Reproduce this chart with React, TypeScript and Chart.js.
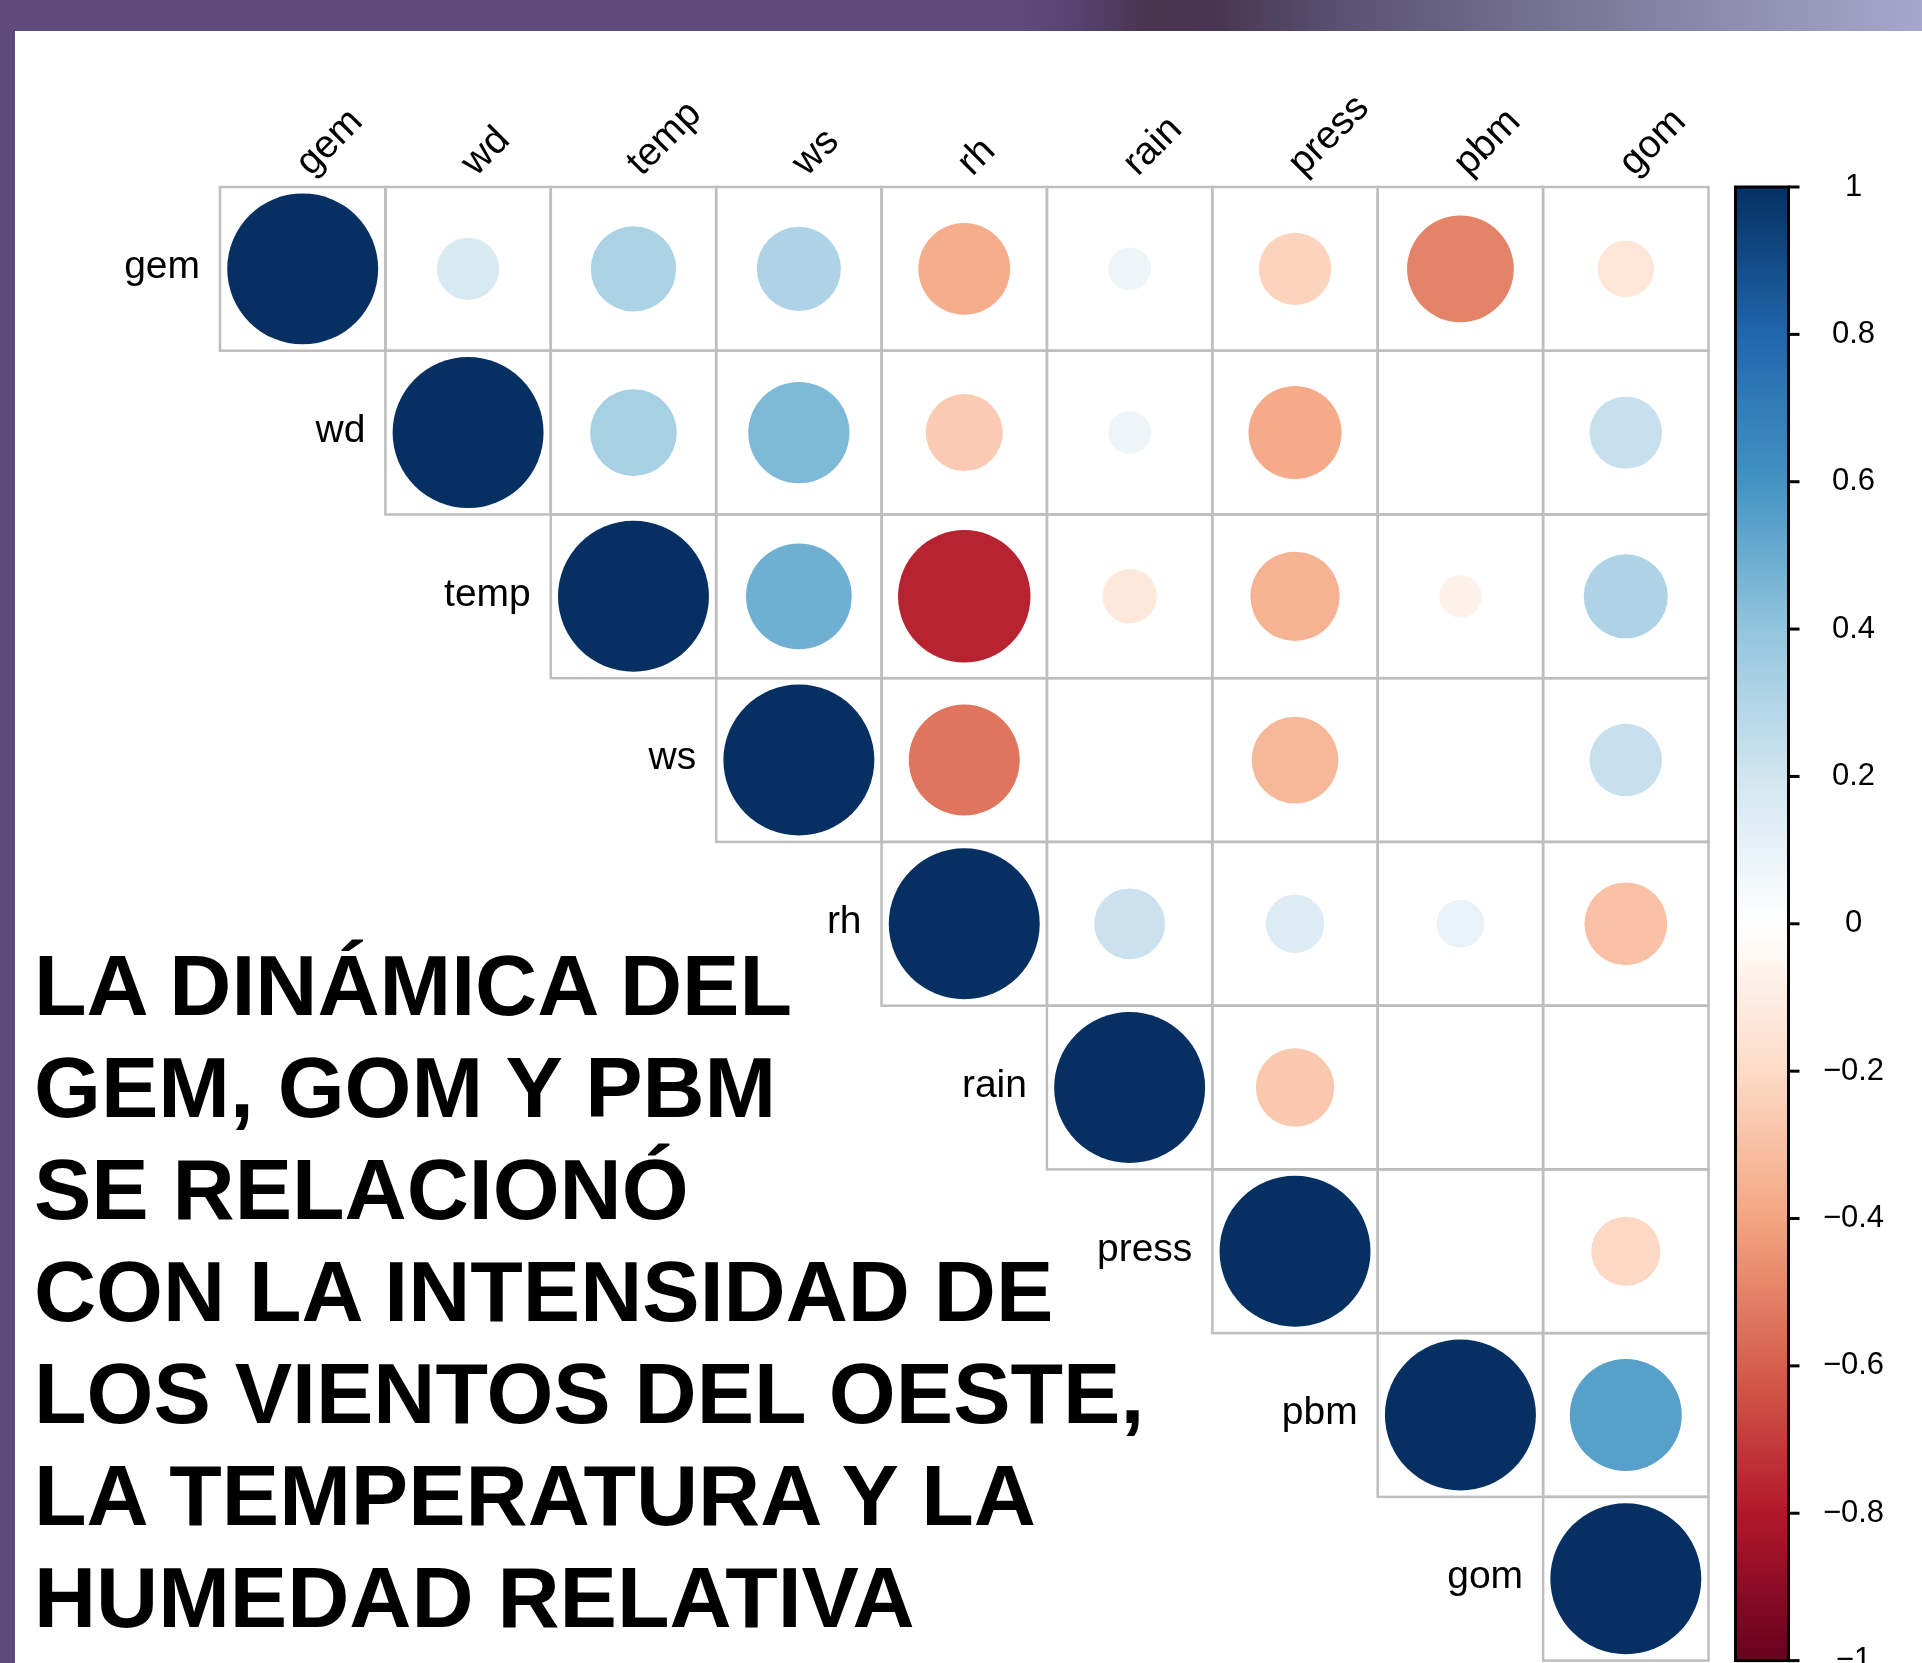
import React, { useEffect, useRef } from "react";
import { Chart, registerables } from "chart.js";

Chart.register(...registerables);

// ---------- data ----------
const VARIABLES = ["gem", "wd", "temp", "ws", "rh", "rain", "press", "pbm", "gom"];

// upper triangle, each row starts at the diagonal; null = blank cell
const ROW_GEM = [1, 0.17, 0.32, 0.31, -0.37, 0.08, -0.23, -0.5, -0.14];
const ROW_WD = [1, 0.33, 0.45, -0.26, 0.08, -0.38, null, 0.23];
const ROW_TEMP = [1, 0.49, -0.77, -0.13, -0.35, -0.08, 0.31];
const ROW_WS = [1, -0.54, null, -0.33, null, 0.23];
const ROW_RH = [1, 0.22, 0.15, 0.1, -0.3];
const ROW_RAIN = [1, -0.27, null, null];
const ROW_PRESS = [1, null, -0.21];
const ROW_PBM = [1, 0.55];
const ROW_GOM = [1];
const UPPER_ROWS: (number | null)[][] = [
  ROW_GEM, ROW_WD, ROW_TEMP, ROW_WS, ROW_RH, ROW_RAIN, ROW_PRESS, ROW_PBM, ROW_GOM,
];

const COLORBAR_TICKS = [1, 0.8, 0.6, 0.4, 0.2, 0, -0.2, -0.4, -0.6, -0.8, -1];

const PALETTE = [
  "#67001F", "#B2182B", "#D6604D", "#F4A582", "#FDDBC7", "#FFFFFF",
  "#D1E5F0", "#92C5DE", "#4393C3", "#2166AC", "#053061",
];

const TITLE_LINES = [
  "LA DINÁMICA DEL",
  "GEM, GOM Y PBM",
  "SE RELACIONÓ",
  "CON LA INTENSIDAD DE",
  "LOS VIENTOS DEL OESTE,",
  "LA TEMPERATURA Y LA",
  "HUMEDAD RELATIVA",
];

// ---------- helpers ----------
function hexToRgb(h: string) {
  const n = parseInt(h.slice(1), 16);
  return [(n >> 16) & 255, (n >> 8) & 255, n & 255];
}
function colorFor(v: number) {
  const t = ((v + 1) / 2) * (PALETTE.length - 1);
  const i = Math.max(0, Math.min(PALETTE.length - 2, Math.floor(t)));
  const f = t - i;
  const a = hexToRgb(PALETTE[i]);
  const b = hexToRgb(PALETTE[i + 1]);
  const c = a.map((av, k) => Math.round(av + (b[k] - av) * f));
  return `rgb(${c[0]},${c[1]},${c[2]})`;
}
function fmtTick(v: number) {
  const s = String(Math.abs(v));
  return v < 0 ? "\u2212" + s : s;
}

const FONT = '"Liberation Sans", Arial, Helvetica, sans-serif';

const corrPlugin = {
  id: "corrDecor",
  beforeDatasetsDraw(chart: any) {
    const { ctx } = chart;
    const x = chart.scales.x;
    const y = chart.scales.y;
    const n = VARIABLES.length;
    ctx.save();
    ctx.strokeStyle = "#bebebe";
    ctx.lineWidth = 2.5;
    for (let i = 0; i < n; i++) {
      for (let j = i; j < n; j++) {
        const x0 = x.getPixelForValue(j);
        const x1 = x.getPixelForValue(j + 1);
        const y0 = y.getPixelForValue(i);
        const y1 = y.getPixelForValue(i + 1);
        ctx.strokeRect(x0, y0, x1 - x0, y1 - y0);
      }
    }
    // row labels
    const fs = 39;
    ctx.fillStyle = "#000";
    ctx.font = `${fs}px ${FONT}`;
    ctx.textAlign = "right";
    ctx.textBaseline = "alphabetic";
    for (let i = 0; i < n; i++) {
      const cy = (y.getPixelForValue(i) + y.getPixelForValue(i + 1)) / 2;
      ctx.fillText(VARIABLES[i], x.getPixelForValue(i) - 20, cy + 0.24 * fs);
    }
    // column labels (rotated)
    const top = y.getPixelForValue(0);
    ctx.textAlign = "left";
    for (let j = 0; j < n; j++) {
      const cx = (x.getPixelForValue(j) + x.getPixelForValue(j + 1)) / 2;
      ctx.save();
      ctx.translate(cx + 8, top - 10);
      ctx.rotate(-Math.PI / 4);
      ctx.fillText(VARIABLES[j], 0, 0);
      ctx.restore();
    }
    ctx.restore();
  },
  afterDatasetsDraw(chart: any) {
    const { ctx, chartArea } = chart;
    const cb = chart.scales.cb;
    const left = chartArea.right + 27;
    const right = chartArea.right + 80;
    const top = cb.getPixelForValue(1);
    const bottom = cb.getPixelForValue(-1);
    ctx.save();
    const g = ctx.createLinearGradient(0, bottom, 0, top);
    PALETTE.forEach((c, k) => g.addColorStop(k / (PALETTE.length - 1), c));
    ctx.fillStyle = g;
    ctx.fillRect(left, top, right - left, bottom - top);
    ctx.strokeStyle = "#000";
    ctx.lineWidth = 3;
    ctx.strokeRect(left, top, right - left, bottom - top);
    ctx.lineWidth = 3;
    ctx.fillStyle = "#000";
    ctx.font = `31px ${FONT}`;
    ctx.textAlign = "center";
    ctx.textBaseline = "middle";
    for (const v of COLORBAR_TICKS) {
      const py = cb.getPixelForValue(v);
      ctx.beginPath();
      ctx.moveTo(right, py);
      ctx.lineTo(right + 11, py);
      ctx.stroke();
      ctx.fillText(fmtTick(v), right + 65, py);
    }
    ctx.restore();
  },
};

export default function App() {
  const ref = useRef<HTMLCanvasElement>(null);

  useEffect(() => {
    const points: { x: number; y: number; r: number }[] = [];
    UPPER_ROWS.forEach((row, i) => {
      row.forEach((v, k) => {
        if (v !== null) points.push({ x: i + k + 0.5, y: i + 0.5, r: v });
      });
    });

    const chart = new Chart(ref.current as HTMLCanvasElement, {
      type: "scatter",
      data: {
        datasets: [
          {
            data: points as any,
            pointStyle: "circle",
            pointBorderWidth: 0,
            pointHoverBorderWidth: 0,
            pointBackgroundColor: (c: any) => colorFor(c.raw ? c.raw.r : 0),
            pointRadius: (c: any) => {
              const ch = c.chart;
              const sx = ch.scales.x;
              const sy = ch.scales.y;
              const cw = Math.abs(sx.getPixelForValue(1) - sx.getPixelForValue(0));
              const chh = Math.abs(sy.getPixelForValue(1) - sy.getPixelForValue(0));
              const v = c.raw ? Math.abs(c.raw.r) : 0;
              return 0.461 * Math.min(cw, chh) * Math.sqrt(v);
            },
          } as any,
        ],
      },
      options: {
        animation: false,
        responsive: false,
        devicePixelRatio: 1,
        events: [],
        layout: { padding: { left: 220, top: 187, right: 213.5, bottom: 2.4 } },
        plugins: { legend: { display: false }, tooltip: { enabled: false } },
        scales: {
          x: { type: "linear", min: 0, max: 9, display: false },
          y: { type: "linear", min: 0, max: 9, reverse: true, display: false },
          cb: { type: "linear", axis: "y", position: "right", min: -1, max: 1, display: false },
        } as any,
      },
      plugins: [corrPlugin],
    });
    return () => chart.destroy();
  }, []);

  return (
    <div
      style={{
        position: "fixed",
        left: 0,
        top: 0,
        width: 1922,
        height: 1663,
        background: "#ffffff",
        overflow: "hidden",
      }}
    >
      <canvas ref={ref} width={1922} height={1663} style={{ position: "absolute", left: 0, top: 0 }} />
      <div
        style={{
          position: "absolute",
          left: 0,
          top: 0,
          width: 1922,
          height: 31,
          background:
            "linear-gradient(to right, #5f4b7a 0%, #5f4b7a 53%, #56436f 56%, #47344f 60%, #473552 63%, #5a5272 70%, #7a7796 82%, #a6a8cb 100%)",
        }}
      />
      <div style={{ position: "absolute", left: 0, top: 0, width: 15, height: 1663, background: "#5f4b7a" }} />
      <div
        style={{
          position: "absolute",
          left: 34,
          top: 934,
          fontFamily: FONT,
          fontWeight: "bold",
          fontSize: 86,
          lineHeight: "102px",
          color: "#000",
          whiteSpace: "nowrap",
        }}
      >
        {TITLE_LINES.map((l) => (
          <div key={l}>{l}</div>
        ))}
      </div>
    </div>
  );
}
